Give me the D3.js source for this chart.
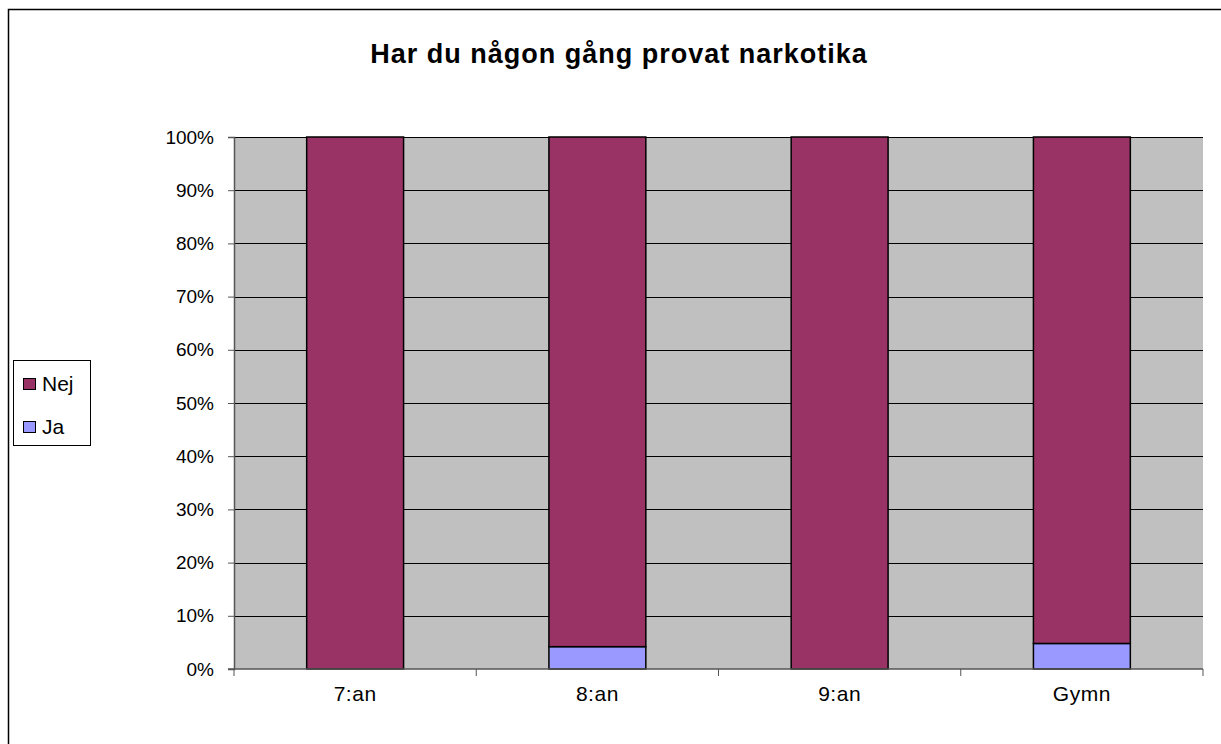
<!DOCTYPE html>
<html>
<head>
<meta charset="utf-8">
<script src="https://cdn.jsdelivr.net/npm/d3@7"></script>
<style>
  body { margin: 0; background: #fff; }
  svg text { font-family: "Liberation Sans", Arial, sans-serif; fill: #000; }
</style>
</head>
<body>
<div id="chart"></div>
<script>
// Data
var categories = ["7:an", "8:an", "9:an", "Gymn"];
var jaValues = [0, 4.2, 0, 4.8];
var nejValues = [100, 95.8, 100, 95.2];
var yTicks = [0, 10, 20, 30, 40, 50, 60, 70, 80, 90, 100];
var seriesNames = ["Nej", "Ja"];
var seriesColors = ["#993366", "#9999FF"];

var svgWidth = 1221;
var svgHeight = 744;

var margin = { top: 137, right: 18, bottom: 75, left: 234 };
var width = 1203 - margin.left;
var height = 669 - margin.top;

var svg = d3.select("#chart")
    .append("svg")
    .attr("width", svgWidth)
    .attr("height", svgHeight);

// outer chart border (runs off right and bottom)
svg.append("rect")
    .attr("x", 8.5).attr("y", 9.5)
    .attr("width", svgWidth + 10).attr("height", svgHeight + 10)
    .attr("fill", "none").attr("stroke", "#000").attr("stroke-width", 1.5);

// title
svg.append("text")
    .attr("x", 619).attr("y", 63)
    .attr("text-anchor", "middle")
    .style("font-size", "27px").style("font-weight", "bold")
    .style("letter-spacing", "1px")
    .text("Har du någon gång provat narkotika");

var chartGroup = svg.append("g").attr("transform", `translate(${margin.left}, ${margin.top})`);

var xScale = d3.scaleBand().domain(categories).range([0, width]).paddingInner(0.6).paddingOuter(0.3);
var xEdge = d3.scaleLinear().domain([0, categories.length]).range([0, width]);
var yScale = d3.scaleLinear().domain([0, 100]).range([height, 0]);

// plot background
chartGroup.append("rect")
    .attr("width", width).attr("height", height)
    .attr("fill", "#C0C0C0");

// gridlines
chartGroup.selectAll(".grid")
    .data(yTicks.slice(1))
    .enter().append("line")
    .attr("x1", 0).attr("x2", width)
    .attr("y1", d => Math.round(yScale(d)) + 0.5)
    .attr("y2", d => Math.round(yScale(d)) + 0.5)
    .attr("stroke", "#000").attr("stroke-width", 1);

// stacked bars
var stacked = categories.map((c, i) => ({ cat: c, ja: jaValues[i], nej: nejValues[i] }));

chartGroup.selectAll(".ja")
    .data(stacked.filter(d => d.ja > 0))
    .enter().append("rect")
    .attr("x", d => xScale(d.cat))
    .attr("y", d => yScale(d.ja))
    .attr("width", xScale.bandwidth())
    .attr("height", d => yScale(0) - yScale(d.ja))
    .attr("fill", seriesColors[1])
    .attr("stroke", "#000").attr("stroke-width", 1.5);

chartGroup.selectAll(".nej")
    .data(stacked)
    .enter().append("rect")
    .attr("x", d => xScale(d.cat))
    .attr("y", d => yScale(d.ja + d.nej))
    .attr("width", xScale.bandwidth())
    .attr("height", d => yScale(d.ja) - yScale(d.ja + d.nej))
    .attr("fill", seriesColors[0])
    .attr("stroke", "#000").attr("stroke-width", 1.5);

// y axis
var leftAxis = d3.axisLeft(yScale)
    .tickValues(yTicks)
    .tickSize(6)
    .tickPadding(14)
    .tickFormat(d => d + "%");
var yAxisG = chartGroup.append("g").call(leftAxis);
yAxisG.select(".domain").attr("stroke", "#555").attr("stroke-width", 1.5);
yAxisG.selectAll(".tick line").attr("stroke", "#555");
yAxisG.selectAll("text").style("font-size", "19px");

// x axis
var xAxisG = chartGroup.append("g").attr("transform", `translate(0, ${height})`);
xAxisG.append("line")
    .attr("x1", -6).attr("x2", width)
    .attr("stroke", "#555").attr("stroke-width", 1.5);
xAxisG.selectAll(".xtick")
    .data(d3.range(categories.length + 1))
    .enter().append("line")
    .attr("x1", d => xEdge(d)).attr("x2", d => xEdge(d))
    .attr("y1", 0).attr("y2", 7)
    .attr("stroke", "#555");
xAxisG.selectAll(".xlabel")
    .data(categories)
    .enter().append("text")
    .attr("x", d => xScale(d) + xScale.bandwidth() / 2)
    .attr("y", 32)
    .attr("text-anchor", "middle")
    .style("font-size", "21px")
    .style("letter-spacing", "0.5px")
    .text(d => d);

// legend
var legend = svg.append("g");
legend.append("rect")
    .attr("x", 13.5).attr("y", 360.5)
    .attr("width", 77).attr("height", 85)
    .attr("fill", "#fff").attr("stroke", "#000").attr("stroke-width", 1);
var items = legend.selectAll(".item")
    .data(seriesNames)
    .enter().append("g")
    .attr("transform", (d, i) => `translate(0, ${i * 43})`);
items.append("rect")
    .attr("x", 23.5).attr("y", 378.5)
    .attr("width", 12).attr("height", 11)
    .attr("fill", (d, i) => seriesColors[i])
    .attr("stroke", "#000").attr("stroke-width", 1);
items.append("text")
    .attr("x", 42).attr("y", 391)
    .style("font-size", "21px")
    .text(d => d);
</script>
</body>
</html>
